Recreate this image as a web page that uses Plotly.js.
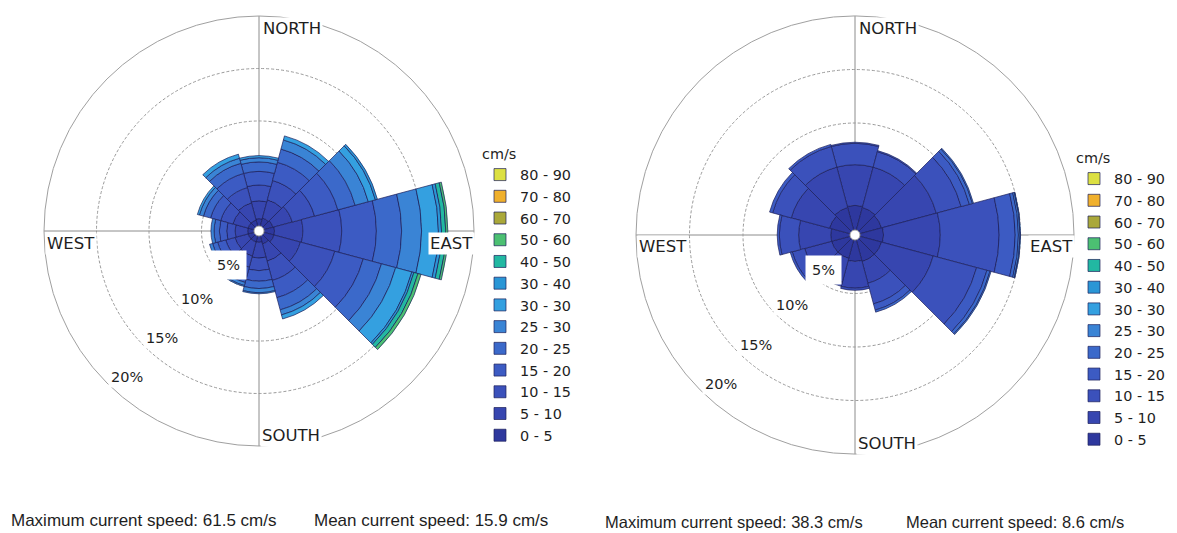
<!DOCTYPE html>
<html><head><meta charset="utf-8">
<script src="https://cdn.plot.ly/plotly-3.0.1.min.js"></script>
<style>html,body{margin:0;padding:0;background:#fff}#chart{width:1177px;height:533px}</style>
</head><body><div id="chart"></div>
<script>
// ---------- data ----------
const directions = [0, 30, 60, 90, 120, 150, 180, 210, 240, 270, 300, 330];
const speedBins = ['0 - 5','5 - 10','10 - 15','15 - 20','20 - 25','25 - 30','30 - 30','30 - 40','40 - 50','50 - 60','60 - 70','70 - 80','80 - 90'];
const binColors = ['#2e389e','#3746b0','#3b51bb','#3c5bc3','#3b69ca','#3a84d5','#34a0e0','#2a96d6','#22b8a2','#4cc072','#aaa83a','#f0b02c','#dce042'];
const ringTicks = [5, 10, 15];
const ringLabels = ['5%', '10%', '15%', '20%'];
const ringLabelValues = [5, 10, 15, 20];

// frequency (%) per speed bin (rows) and direction (columns) - first station
const leftFreq = [
  [0.7,0.8,0.9,1.0,1.0,0.8,0.6,0.6,0.6,0.6,0.6,0.6],
  [1.7,1.8,1.9,2.7,2.6,1.7,1.5,1.4,1.3,1.2,1.5,1.7],
  [1.5,1.9,2.2,3.7,3.4,1.9,1.2,1.1,0.9,0.8,1.2,1.5],
  [1.3,1.8,2.3,3.3,2.8,1.7,1.0,0.9,0.8,0.7,1.0,1.4],
  [0.9,1.3,1.7,2.4,1.8,1.2,0.7,0.6,0.5,0.5,0.7,1.0],
  [0.4,0.9,1.3,1.9,1.4,0.5,0.4,0.3,0.3,0.3,0.4,0.5],
  [0.2,0.4,0.7,1.6,1.6,0.4,0.1,0.1,0,0,0.2,0.4],
  [0,0,0.2,0.3,0.2,0,0,0,0,0,0,0],
  [0,0,0,0.4,0.4,0,0,0,0,0,0,0],
  [0,0,0,0.2,0.3,0,0,0,0,0,0,0],
  [0,0,0,0,0,0,0,0,0,0,0,0],
  [0,0,0,0,0,0,0,0,0,0,0,0],
  [0,0,0,0,0,0,0,0,0,0,0,0]
];
// second station
const rightFreq = [
  [2.3,2.2,2.1,2.2,2.1,2.1,2.0,1.8,1.8,1.8,2.0,2.2],
  [3.8,3.9,5.3,5.3,5.0,2.1,2.5,2.3,2.6,3.0,3.7,3.9],
  [2.0,1.5,2.4,5.5,4.2,2.0,0.2,0.4,1.2,1.8,1.8,2.0],
  [0.1,0.1,0.8,1.5,1.0,0.6,0,0,0.2,0.2,0.3,0.2],
  [0,0,0.3,0.3,0.3,0.2,0,0,0,0,0,0],
  [0,0,0.1,0.15,0.1,0,0,0,0,0,0,0],
  [0,0,0,0.05,0,0,0,0,0,0,0,0],
  [0,0,0,0,0,0,0,0,0,0,0,0],
  [0,0,0,0,0,0,0,0,0,0,0,0],
  [0,0,0,0,0,0,0,0,0,0,0,0],
  [0,0,0,0,0,0,0,0,0,0,0,0],
  [0,0,0,0,0,0,0,0,0,0,0,0],
  [0,0,0,0,0,0,0,0,0,0,0,0]
];
const leftStats = ['Maximum current speed: 61.5 cm/s', 'Mean current speed: 15.9 cm/s'];
const rightStats = ['Maximum current speed: 38.3 cm/s', 'Mean current speed: 8.6 cm/s'];
const compass = ['NORTH', 'EAST', 'SOUTH', 'WEST'];

// ---------- layout geometry ----------
const W = 1177, H = 533;
const roseL = {cx: 259, cy: 231, R: 215};
const roseR = {cx: 855, cy: 235, R: 219};
const HOLE = 5;
const RMAX = 20;
const FONT = 'DejaVu Sans, sans-serif';
const TXT = '#1e1e1e';

function px(x){ return x / W; }
function py(y){ return 1 - y / H; }

function polarLayout(g){
  return {
    domain: {x: [px(g.cx - g.R), px(g.cx + g.R)], y: [py(g.cy + g.R), py(g.cy - g.R)]},
    hole: HOLE / g.R,
    bgcolor: 'rgba(0,0,0,0)',
    barmode: 'stack',
    radialaxis: {range: [0, RMAX], tickvals: ringTicks, showticklabels: false, ticks: '',
      showline: false, gridcolor: '#9a9a9a', gridwidth: 1, griddash: '3px,2px'},
    angularaxis: {rotation: 90, direction: 'clockwise', tickvals: [0, 90, 180, 270],
      showticklabels: false, ticks: '', gridcolor: '#8c8c8c', gridwidth: 1,
      showline: true, linecolor: '#a0a0a0', linewidth: 1}
  };
}

function ann(x, y, text, opts){
  return Object.assign({xref: 'paper', yref: 'paper', x: px(x), y: py(y), text: text,
    showarrow: false, font: {family: FONT, size: 14.5, color: TXT},
    xanchor: 'center', yanchor: 'middle', bgcolor: '#ffffff', borderpad: 1}, opts || {});
}

function roseAnnotations(g, stats, statY, statSize){
  const out = [];
  const cf = {family: FONT, size: 16.5, color: TXT};
  out.push(ann(g.cx + 2, g.cy - g.R + 12, compass[0], {xanchor: 'left', font: cf}));
  out.push(ann(g.cx + g.R + 1, g.cy + 12, compass[1], {xanchor: 'right', font: cf}));
  out.push(ann(g.cx + 1, g.cy + g.R - 11, compass[2], {xanchor: 'left', font: cf}));
  out.push(ann(g.cx - g.R + 1, g.cy + 12, compass[3], {xanchor: 'left', font: cf}));
  const a = 228 * Math.PI / 180;
  ringLabelValues.forEach((v, i) => {
    const ringPx = HOLE + (g.R - HOLE) * v / RMAX;
    const d = i === 0 ? ringPx - 12 : ringPx - 18;
    out.push(ann(g.cx + d * Math.cos(a), g.cy - d * Math.sin(a), ringLabels[i],
      {borderpad: i === 0 ? 6 : 2}));
  });
  const sf = {family: 'Liberation Sans, Arial, sans-serif', size: statSize, color: TXT};
  out.push(ann(stats.x0, statY, stats.t[0], {xanchor: 'left', bgcolor: 'rgba(0,0,0,0)', borderpad: 0, font: sf}));
  out.push(ann(stats.x1, statY, stats.t[1], {xanchor: 'left', bgcolor: 'rgba(0,0,0,0)', borderpad: 0, font: sf}));
  return out;
}

// ---------- traces ----------
const traces = [];
speedBins.forEach((name, i) => {
  traces.push({type: 'barpolar', subplot: 'polar', legend: 'legend', name: name,
    r: leftFreq[i], theta: directions, width: 30,
    marker: {color: binColors[i], line: {color: '#1d205a', width: 0.7}}, hoverinfo: 'skip'});
});
speedBins.forEach((name, i) => {
  traces.push({type: 'barpolar', subplot: 'polar2', legend: 'legend2', name: name,
    r: rightFreq[i], theta: directions, width: 30,
    marker: {color: binColors[i], line: {color: '#1d205a', width: 0.7}}, hoverinfo: 'skip'});
});

function legendLayout(x, y){
  return {x: px(x), xanchor: 'left', y: py(y), yanchor: 'top', traceorder: 'reversed',
    bgcolor: 'rgba(0,0,0,0)', font: {family: FONT, size: 14.4, color: TXT},
    title: {text: 'cm/s', font: {family: FONT, size: 14.4, color: TXT}},
    itemclick: false, itemdoubleclick: false};
}

const layout = {
  width: W, height: H,
  margin: {l: 0, r: 0, t: 0, b: 0},
  paper_bgcolor: '#ffffff',
  showlegend: true,
  polar: polarLayout(roseL),
  polar2: polarLayout(roseR),
  legend: legendLayout(480, 140),
  legend2: legendLayout(1074, 144),
  annotations: [].concat(
    roseAnnotations(roseL, {x0: 10, x1: 313, t: leftStats}, 520, 17),
    roseAnnotations(roseR, {x0: 604, x1: 905, t: rightStats}, 522, 16.5)
  )
};

Plotly.newPlot('chart', traces, layout, {displayModeBar: false, staticPlot: true});
</script>
</body></html>
